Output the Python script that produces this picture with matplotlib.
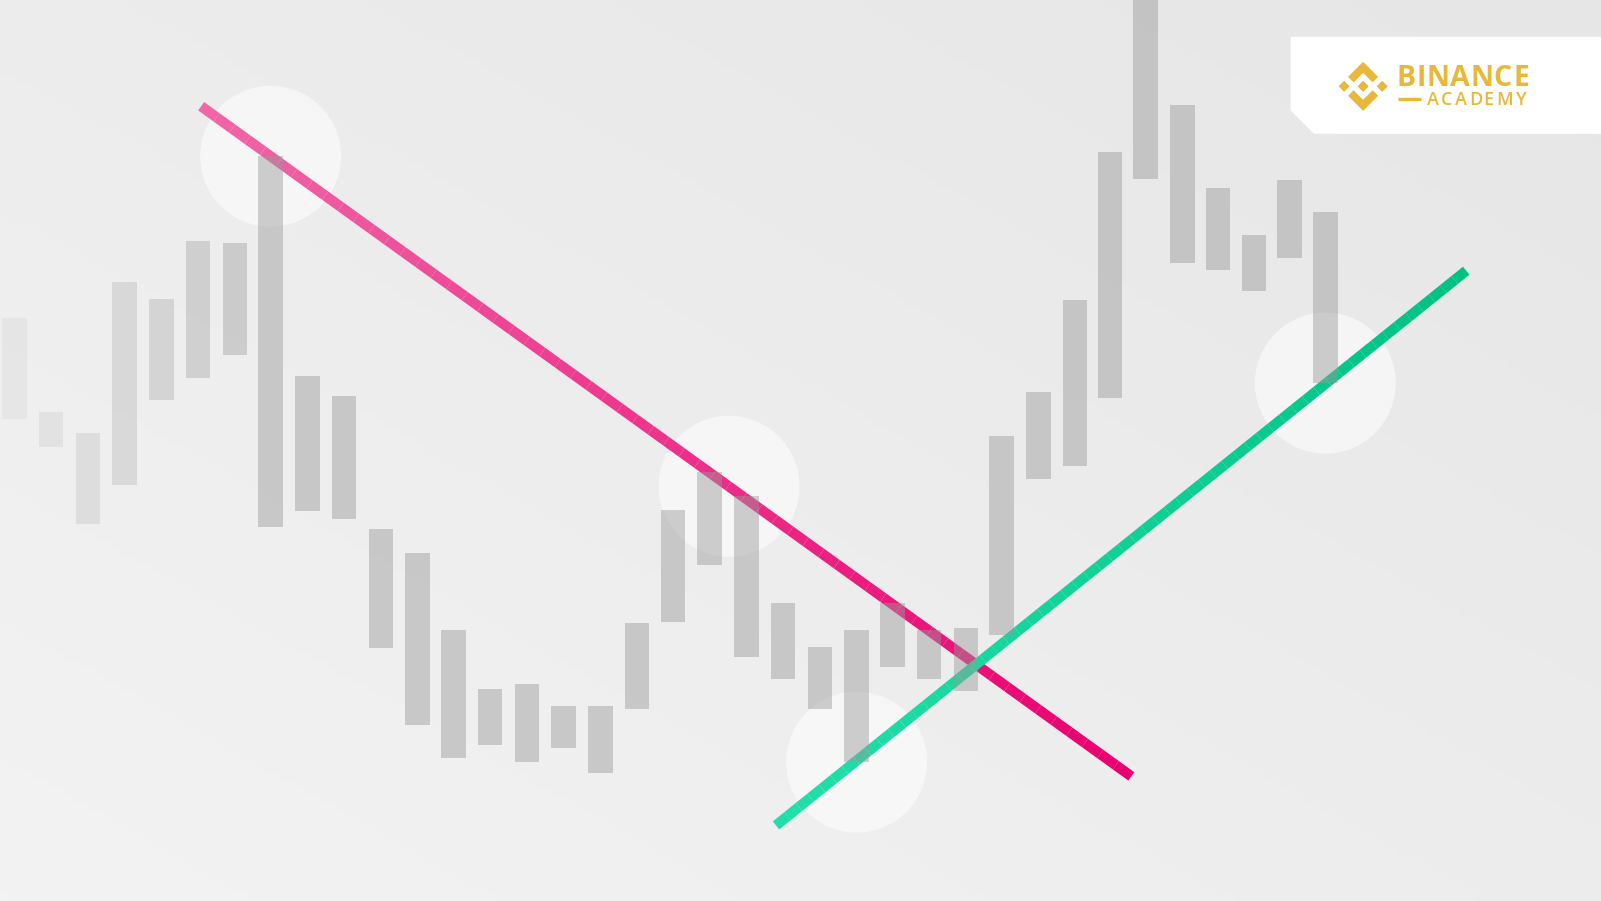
import numpy as np
import matplotlib.pyplot as plt
from matplotlib.collections import LineCollection
from matplotlib.colors import LinearSegmentedColormap
from matplotlib.patches import Circle, Polygon

# bar centres and their top / bottom (in picture units, y grows downward)
bar_x = [14, 50, 86, 122, 158, 194, 230, 265, 301, 337, 373, 409, 444, 480, 516,
         552, 588, 624, 659, 695, 731, 767, 803, 839, 874, 910, 946, 981, 1017,
         1053, 1087, 1122, 1158, 1193, 1228, 1263, 1298]
bar_top = [311, 403, 424, 276, 293, 236, 238, 153, 368, 388, 518, 541, 617, 674, 670,
           691, 691, 610, 499, 462, 486, 590, 633, 617, 590, 617, 615, 427, 384,
           294, 149, 0, 103, 184, 230, 176, 208]
bar_bottom = [410, 438, 513, 475, 392, 370, 348, 516, 500, 508, 634, 710, 742, 729, 746,
              732, 757, 694, 609, 553, 643, 665, 694, 746, 653, 665, 676, 622, 469,
              456, 390, 175, 257, 264, 285, 253, 375]

# highlighted swing points
circle_x = [265, 714, 839, 1298]
circle_y = [153, 476, 746, 375]

# trend lines (start, end)
down_x = [197, 1108]
down_y = [104, 760]
up_x = [760, 1436]
up_y = [808, 265]

W, H = 1568, 882

fig = plt.figure(figsize=(16.01, 9.01), dpi=100)
ax = fig.add_axes([0, 0, 1, 1])
ax.set_xlim(0, W)
ax.set_ylim(H, 0)
ax.axis('off')

# background gradient, light at bottom-left, darker to the top-right
gx, gy = np.meshgrid(np.linspace(0, 1, 200), np.linspace(0, 1, 120))
t = (gx + (1 - gy)) / 2
bg = (243 - 13 * t) / 255
ax.imshow(np.dstack([bg, bg, bg]), extent=[0, W, H, 0], aspect='auto', zorder=0)

for cx, cy in zip(circle_x, circle_y):
    ax.add_patch(Circle((cx, cy), 69, color='white', alpha=0.55, lw=0, zorder=1))


def grad_line(xs, ys, c0, c1):
    n = 60
    px = np.linspace(xs[0], xs[1], n + 1)
    py = np.linspace(ys[0], ys[1], n + 1)
    segs = np.stack([np.column_stack([px[:-1], py[:-1]]),
                     np.column_stack([px[1:], py[1:]])], axis=1)
    cmap = LinearSegmentedColormap.from_list('g', [c0, c1])
    lc = LineCollection(segs, colors=cmap(np.linspace(0, 1, n)), linewidths=7.4,
                        capstyle='butt', zorder=2)
    ax.add_collection(lc)


grad_line(down_x, down_y, '#f066a6', '#e8006f')
grad_line(up_x, up_y, '#22dfaa', '#00c283')

for x, top, bot in zip(bar_x, bar_top, bar_bottom):
    a = 0.1 + 0.35 * min(1, max(0, (x - 14) / 251))
    ax.bar(x, bot - top, bottom=top, width=24, color='#999999', alpha=a, lw=0, zorder=3)

# logo box with a cut corner
box = Polygon([(1264, 36), (W, 36), (W, 131), (1287, 131), (1264, 108)],
              closed=True, color='white', lw=0, zorder=4)
ax.add_patch(box)

gold = '#e9b83b'
shapes = [
    [(38.73, 53.2), (63.32, 28.62), (87.92, 53.22), (102.22, 38.91), (63.32, 0), (24.42, 38.9)],
    [(0, 63.32), (14.3, 49.01), (28.61, 63.32), (14.3, 77.62)],
    [(38.73, 73.41), (63.32, 98), (87.92, 73.4), (102.23, 87.69), (63.33, 126.6), (24.42, 87.72)],
    [(98.3, 63.32), (112.6, 49.01), (126.91, 63.31), (112.6, 77.63)],
    [(77.83, 63.3), (63.32, 48.78), (48.81, 63.28), (63.32, 77.78)],
]
s = 48 / 126.6
for pts in shapes:
    ax.add_patch(Polygon([(1311 + px * s, 60.5 + py * s) for px, py in pts],
                         closed=True, color=gold, lw=0, zorder=5))

# wide, letter-spaced wordmark
for ch, x in zip('BINANCE', [1377, 1392, 1408, 1430, 1451, 1471, 1490]):
    ax.text(x, 84, ch, family='Open Sans', fontweight='bold', fontsize=20.5,
            color=gold, ha='center', va='baseline', zorder=5)
ax.plot([1369, 1392], [97, 97], color=gold, lw=2.4, solid_capstyle='butt', zorder=5)
for ch, x in zip('ACADEMY', [1403, 1417, 1431, 1446, 1458, 1474, 1489]):
    ax.text(x, 103, ch, family='Open Sans', fontweight='semibold', fontsize=13,
            color=gold, ha='center', va='baseline', zorder=5)

fig.savefig('out.png', dpi=100)
